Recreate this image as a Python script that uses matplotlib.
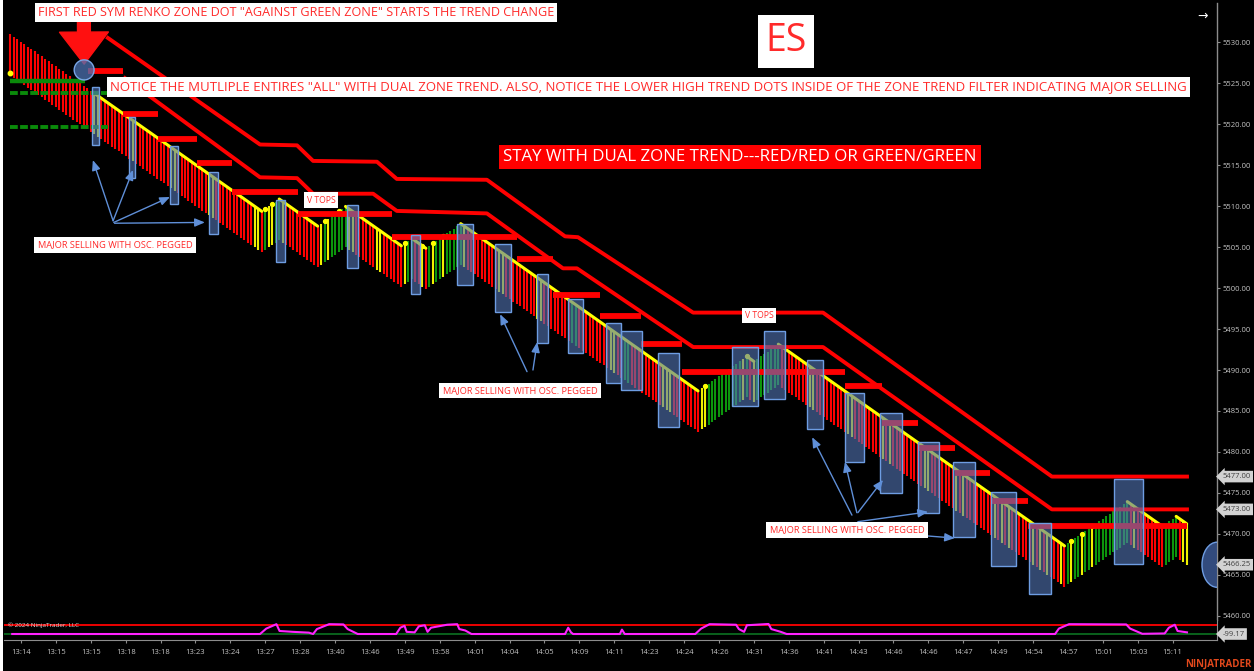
import matplotlib
matplotlib.use("Agg")
import matplotlib.pyplot as plt
import numpy as np
from matplotlib.patches import Rectangle, Ellipse

W, H = 1254, 671
plt.rcParams['font.family'] = ['Open Sans', 'DejaVu Sans']

# ---- renko bars (sym renko, one brick per bar) ----
brick = 0.3
band = 5.0
start_high = 5530.95
legs = [-72, 5, -11, 8, -16, 3, -4, 10, -68, 14, -2, 7, -82, 18, -10, 4, -3]
yellow_bars = [24, 25, 35, 46, 47, 57, 58, 70, 71, 74, 75, 78, 89, 91, 97, 98, 105, 106,
               113, 118, 121, 124, 130, 140, 141, 151, 152, 172, 173, 187, 188, 189,
               198, 199, 210, 213, 229, 230, 240, 241, 250, 252, 262, 263, 271, 273,
               282, 284, 286, 293, 295, 297, 301, 304, 307, 310, 322, 336, 337]
green_bars = [161, 162, 176, 177]
yellow_dots = [73, 75, 90, 94, 113, 118, 121, 124, 199, 211, 304, 307, 310]
yellow_from = 24
trend_dot = (0, 5526.2)

time_labels = ["13:14", "13:15", "13:15", "13:18", "13:18", "13:23", "13:24", "13:27",
               "13:28", "13:40", "13:46", "13:49", "13:58", "14:01", "14:04", "14:05",
               "14:09", "14:11", "14:23", "14:24", "14:26", "14:31", "14:36", "14:41",
               "14:43", "14:46", "14:46", "14:47", "14:49", "14:54", "14:57", "15:01",
               "15:03", "15:11"]

# ---- zone trend lines (bar index, price) ----
zone_top_x = [27.9, 71.5, 82.1, 86.7, 105.0, 110.7, 136.5, 158.9, 162.6, 195.6, 232.8, 298.4, 337.1]
zone_top_y = [5530.5, 5517.5, 5517.4, 5515.5, 5515.4, 5513.3, 5513.2, 5506.3, 5506.2, 5497.0, 5497.0, 5477.0, 5477.0]
zone_low_x = [32.8, 71.5, 82.1, 86.7, 103.9, 110.7, 136.5, 158.3, 162.3, 195.6, 232.8, 298.4, 337.1]
zone_low_y = [5525.6, 5513.5, 5513.4, 5511.5, 5511.5, 5509.4, 5509.1, 5502.4, 5502.4, 5492.8, 5492.8, 5473.0, 5473.0]

# lower-high trend dots (start bar, end bar, price)
dash_x0 = [22.2, 32.2, 42.3, 53.4, 63.5, 82.4, 109.3, 145.1, 155.4, 169.0, 180.7, 192.4,
           239.1, 249.7, 260.0, 270.6, 280.7, 291.5]
dash_x1 = [32.2, 42.3, 53.4, 63.5, 82.4, 109.3, 145.1, 155.4, 169.0, 180.7, 192.4, 239.1,
           249.7, 260.0, 270.6, 280.7, 291.5, 337.1]
dash_y = [5526.5, 5521.2, 5518.2, 5515.2, 5511.7, 5509.0, 5506.2, 5503.5, 5499.1, 5496.6,
          5493.2, 5489.8, 5488.0, 5483.5, 5480.5, 5477.4, 5474.0, 5471.0]

# green zone lines at the left (end bar, price)
green_x1 = [21.3, 27.7, 28.0]
green_y = [5525.2, 5523.8, 5519.6]

# highlighted boxes (bar from, bar to, price high, price low)
boxes = [(23.4, 25.4, 5524.5, 5517.4), (34.0, 35.7, 5520.9, 5513.4), (45.7, 48.0, 5517.3, 5510.2),
         (56.9, 59.5, 5514.1, 5506.6), (76.1, 78.6, 5510.7, 5503.2), (96.4, 99.6, 5510.1, 5502.4),
         (114.8, 117.3, 5506.5, 5499.3), (127.9, 132.5, 5507.8, 5500.4), (138.8, 143.4, 5505.4, 5497.1),
         (150.9, 154.0, 5501.7, 5493.3), (159.7, 164.0, 5498.7, 5492.1), (170.6, 174.9, 5495.7, 5488.4),
         (174.9, 181.0, 5494.8, 5487.6), (185.5, 191.5, 5492.1, 5483.0), (206.7, 214.2, 5492.8, 5485.6),
         (215.9, 221.9, 5494.8, 5486.5), (228.2, 232.8, 5491.2, 5482.8), (239.1, 244.6, 5487.2, 5478.8),
         (249.1, 255.4, 5484.8, 5475.0), (260.0, 266.0, 5481.2, 5472.6), (270.1, 276.4, 5478.8, 5469.6),
         (280.9, 288.1, 5475.1, 5466.1), (291.8, 298.1, 5471.3, 5462.7), (316.2, 324.5, 5476.7, 5466.3)]

# blue pointer arrows ((from bar, price), (to bar, price))
pointers = [((29.4, 5508.2), (23.6, 5515.6)), ((29.4, 5508.2), (35.1, 5514.4)),
            ((29.6, 5508.0), (45.7, 5511.1)), ((29.8, 5507.9), (55.7, 5508.0)),
            ((148.0, 5489.8), (140.3, 5496.8)), ((149.7, 5490.0), (150.9, 5493.4)),
            ((241.1, 5472.3), (229.7, 5481.8)), ((242.5, 5472.6), (239.1, 5478.8)),
            ((242.8, 5472.6), (250.0, 5476.6)), ((242.8, 5471.5), (262.9, 5472.7)),
            ((261.5, 5469.8), (270.6, 5469.5))]

# oscillator (bar index, value)
osc_idx = [0.5, 71.5, 73.3, 76.2, 77.1, 80.9, 85.5, 86.7, 87.8, 91.3, 95.4, 96.6, 99.5,
           110.5, 111.7, 112.9, 113.5, 115.8, 117.0, 118.7, 119.5, 120.5, 125.1, 128.0, 128.6, 130.3, 132.1,
           158.9, 159.8, 160.6, 161.2, 174.6, 175.2, 176.0,
           196.2, 197.9, 200.3, 207.9, 208.7, 210.2, 211.0, 217.2, 218.0, 220.7, 222.4,
           299.3, 300.4, 303.3, 319.7, 320.8, 324.3, 330.7, 331.9, 333.6, 334.4, 337.1]
osc_val = [-99, -99, 9, 96, -39, -56, -72, -99, -1, 96, 91, -1, -99,
           -99, 26, 64, -56, -66, 53, 75, -56, 26, 85, 96, -1, -29, -99,
           -99, 26, -66, -99, -99, -12, -99,
           -99, 9, 96, 85, -1, -56, 75, 100, -1, -56, -99,
           -99, 9, 96, 91, 9, -95, -88, 26, 85, -39, -66]
osc_last = -99.17
osc_upper, osc_lower = 80, -99

RED, GREEN, YELLOW = '#ff0000', '#0c960c', '#f0f000'
GRID = '#8c8c8c'
LBL = '#c4c4c4'

# build bars
steps = np.concatenate([np.full(abs(n), np.sign(n)) for n in legs])
highs = start_high + brick * np.concatenate([[0], np.cumsum(steps)])
lows = highs - band
idx = np.arange(len(highs))
direction = np.concatenate([[-1], steps])
colors = np.where(direction < 0, RED, GREEN).astype(object)
colors[yellow_bars] = YELLOW
colors[green_bars] = GREEN

fig = plt.figure(figsize=(W / 100, H / 100), dpi=100, facecolor='black')
fx = lambda x: x / W
fy = lambda y: 1 - y / H
fig.patches.append(Rectangle((0, 0), fx(3), 1, transform=fig.transFigure, fc='white', ec='none'))

ax = fig.add_axes([fx(4), fy(620), fx(1217 - 4), (620 - 3) / H])
ax.set_facecolor('black')
ax.set_xlim(-1.86, 345.7)
ax.set_ylim(5459.51, 5534.76)

ax.vlines(idx, lows, highs, colors=list(colors), lw=1.5, zorder=1)

ends = np.cumsum(np.abs(legs))
starts = ends - np.abs(legs)
for s, e, n in zip(starts, ends, legs):
    if n < 0:
        s = max(s, yellow_from)
        ax.plot(idx[s:e + 1], highs[s:e + 1], color='#ffff00', lw=2.2, zorder=2,
                solid_capstyle='round')
ax.plot(idx[yellow_dots], highs[yellow_dots], 'o', color='#ffff00', ms=2.8, zorder=2)
ax.plot(*trend_dot, 'o', color='#ffff00', ms=3.2, zorder=2)

ax.plot(zone_top_x, zone_top_y, color=RED, lw=2.8, zorder=3)
ax.plot(zone_low_x, zone_low_y, color=RED, lw=2.8, zorder=3)
ax.hlines(dash_y, dash_x0, dash_x1, color=RED, lw=4.2, zorder=3)
ax.hlines(green_y[0], 0, green_x1[0], color='#0a8a0a', lw=3.2, zorder=3)
ax.hlines(green_y[1:], 0, green_x1[1:], color='#0a8a0a', lw=2.8, linestyles=[(0, (2, 0.6))], zorder=3)

for i0, i1, phi, plo in boxes:
    ax.add_patch(Rectangle((i0, plo), i1 - i0, phi - plo, fc=(0.33, 0.47, 0.72, 0.6),
                           ec='#6e9de2', lw=1.0, zorder=4))

for (xa, ya), (xb, yb) in pointers:
    ax.annotate('', xy=(xb, yb), xytext=(xa, ya),
                arrowprops=dict(arrowstyle='-|>,head_length=0.6,head_width=0.25', color='#5f8fd8',
                                lw=1.0, shrinkA=0, shrinkB=0), zorder=5)

# big red arrow onto the first red zone dot
ax.annotate('', xy=(21.1, 5527.3), xytext=(21.0, 5534.7),
            arrowprops=dict(arrowstyle='simple,head_length=1.05,head_width=1.6,tail_width=0.42',
                            color='#ff1010', mutation_scale=22, shrinkA=0, shrinkB=0), zorder=6)
ax.add_patch(Ellipse((21.1, 5526.6), 5.7, 2.45, fc=(0.3, 0.45, 0.7, 0.75), ec='#7aa6e6', lw=1.0, zorder=6))
ax.add_patch(Ellipse((345.7, lows[-1]), 8.6, 5.5, fc=(0.22, 0.33, 0.55, 0.9), ec='#6e9de2', lw=1.0, zorder=4))

ax.set_xticks([])
ax.set_yticks(np.arange(5460, 5531, 5))
ax.set_yticklabels([f'{v:.2f}' for v in np.arange(5460, 5531, 5)])
ax.yaxis.tick_right()
ax.tick_params(axis='y', length=2.2, width=0.8, color=GRID, labelcolor=LBL, labelsize=5.5, pad=2)
for side in ['top', 'left', 'bottom']:
    ax.spines[side].set_visible(False)
ax.spines['right'].set_color(GRID)
ax.spines['right'].set_linewidth(1.0)

badge = dict(boxstyle='larrow,pad=0.3', fc='#d2d2d2', ec='none')
for v in [zone_top_y[-1], zone_low_y[-1], lows[-1]]:
    ax.text(1.0045, v, f'{v:.2f}', transform=ax.get_yaxis_transform(), ha='left', va='center',
            fontsize=5.5, color='#404040', bbox=badge, zorder=7, clip_on=False)

# ---- oscillator panel ----
ax2 = fig.add_axes([fx(4), fy(640), fx(1217 - 4), 20 / H])
ax2.set_facecolor('black')
ax2.set_xlim(ax.get_xlim())
ax2.set_ylim(-218, 179)
ax2.axhline(osc_upper, color=RED, lw=1.3)
ax2.axhline(osc_lower, color='#0b6b1e', lw=1.3)
ax2.plot(osc_idx, osc_val, color='#ff22ff', lw=1.5)
ax2.set_yticks([])
tick_idx = 3 + 10 * np.arange(len(time_labels))
ax2.set_xticks(tick_idx)
ax2.set_xticklabels(time_labels)
ax2.tick_params(axis='x', length=2.2, width=0.8, color=GRID, labelcolor=LBL, labelsize=5.5, pad=4)
for side in ['top', 'left']:
    ax2.spines[side].set_visible(False)
for side in ['right', 'bottom']:
    ax2.spines[side].set_color(GRID)
ax2.text(1.0045, osc_last, f'{osc_last:.2f}', transform=ax2.get_yaxis_transform(), ha='left',
         va='center', fontsize=5.5, color='#404040', bbox=badge, clip_on=False)
ax2.text(0.003, 0.72, '© 2024 NinjaTrader, LLC', transform=ax2.transAxes, fontsize=4.5,
         color='#d8d8d8', va='center', ha='left')

# ---- annotations ----
red_txt = '#ff2a2a'
wbox = dict(fc='white', ec='none', boxstyle='square,pad=0.25')
fig.text(fx(38), fy(12.5), 'FIRST RED SYM RENKO ZONE DOT "AGAINST GREEN ZONE" STARTS THE TREND CHANGE',
         color=red_txt, fontsize=9.1, ha='left', va='center', bbox=wbox, zorder=10)
fig.text(fx(110), fy(87), 'NOTICE THE MUTLIPLE ENTIRES "ALL" WITH DUAL ZONE TREND. ALSO, NOTICE THE LOWER '
         'HIGH TREND DOTS INSIDE OF THE ZONE TREND FILTER INDICATING MAJOR SELLING',
         color=red_txt, fontsize=9.55, ha='left', va='center', bbox=wbox, zorder=10)
fig.text(fx(786), fy(41), 'ES', color=red_txt, fontsize=27, ha='center', va='center',
         bbox=dict(fc='white', ec='none', boxstyle='square,pad=0.2'), zorder=10)
fig.text(fx(740), fy(157), 'STAY WITH DUAL ZONE TREND---RED/RED OR GREEN/GREEN', color='white',
         fontsize=12.2, ha='center', va='center',
         bbox=dict(fc='#ff0000', ec='none', boxstyle='square,pad=0.25'), zorder=10)
small = dict(fc='white', ec='none', boxstyle='square,pad=0.35')
for x, y in [(321, 200), (759, 315.5)]:
    fig.text(fx(x), fy(y), 'V TOPS', color=red_txt, fontsize=6.2, ha='center', va='center',
             bbox=small, zorder=10)
for x, y in [(115, 245), (520, 390.5), (847, 530)]:
    fig.text(fx(x), fy(y), 'MAJOR SELLING WITH OSC. PEGGED', color=red_txt, fontsize=6.7,
             ha='center', va='center', bbox=small, zorder=10)
fig.text(fx(1203), fy(16), '→', color='white', fontsize=9, ha='center', va='center')
fig.text(fx(1251), fy(664), 'NINJATRADER', color='#e2481c', fontsize=7, fontweight='bold',
         ha='right', va='center')

fig.savefig('out.png', dpi=100, facecolor=fig.get_facecolor())
